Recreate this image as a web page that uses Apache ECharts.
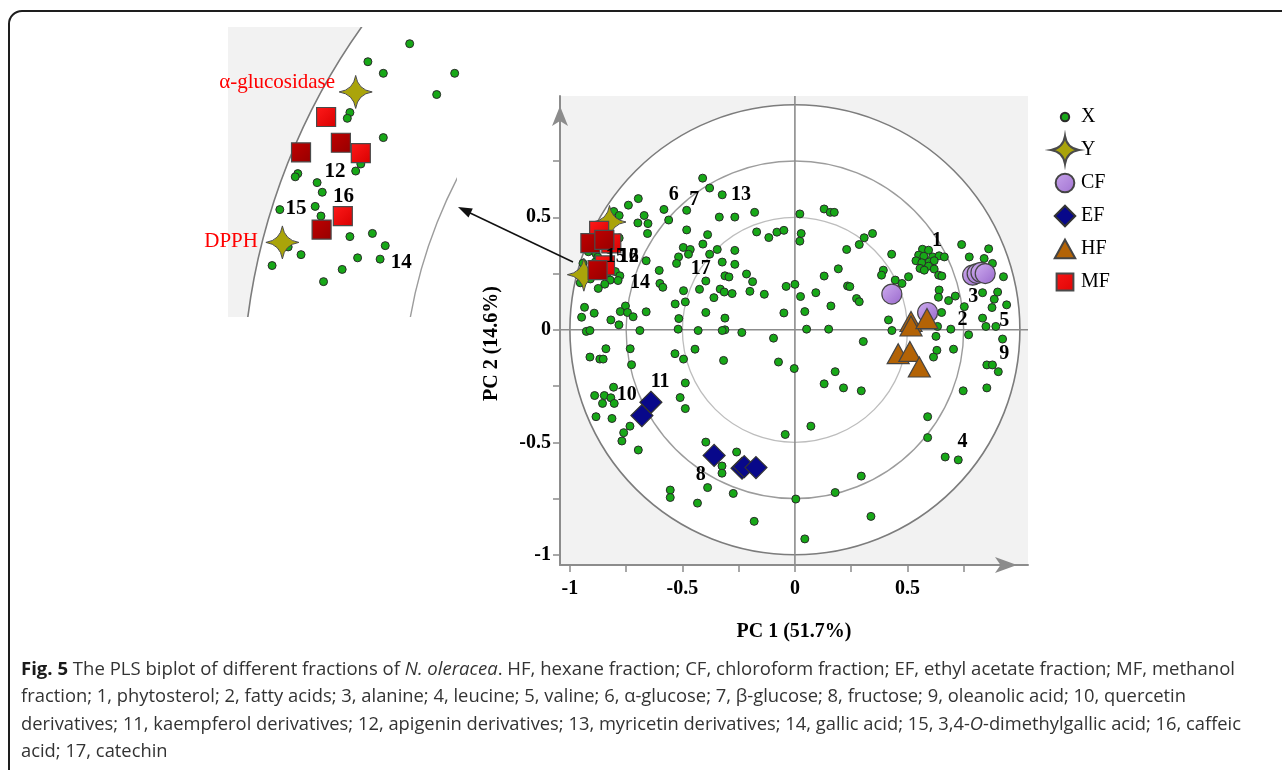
<!DOCTYPE html>
<html>
<head>
<meta charset="utf-8">
<title>PLS biplot</title>
<script src="https://cdn.jsdelivr.net/npm/echarts@6/dist/echarts.min.js"></script>
<style>
  html, body { margin: 0; padding: 0; background: #fff; }
  #main { width: 1282px; height: 770px; }
</style>
</head>
<body>
<div id="main"></div>
<script>
// ---- data ----
const xPoints = [
  // inside the zoomed window
  [-0.740,0.554],[-0.805,0.526],[-0.781,0.508],[-0.670,0.508],[-0.698,0.475],[-0.833,0.447],[-0.837,0.438],
  [-0.781,0.408],[-0.816,0.367],[-0.824,0.356],[-0.914,0.352],[-0.918,0.347],[-0.884,0.338],[-0.876,0.323],
  [-0.942,0.296],[-0.887,0.301],[-0.878,0.286],[-0.833,0.254],[-0.798,0.259],[-0.778,0.240],[-0.909,0.226],
  [-0.954,0.209],[-0.821,0.221],[-0.786,0.219],[-0.845,0.203],[-0.874,0.184],[-0.929,0.238],[-0.696,0.583],
  // upper left
  [-0.410,0.674],[-0.379,0.630],[-0.323,0.600],[-0.582,0.535],[-0.481,0.531],[-0.561,0.488],
  [-0.653,0.472],[-0.655,0.428],[-0.336,0.501],[-0.267,0.501],[-0.179,0.522],[-0.481,0.444],[-0.388,0.423],
  [-0.409,0.381],[-0.345,0.357],[-0.267,0.353],[-0.496,0.366],[-0.465,0.357],[-0.473,0.336],[-0.517,0.324],
  [-0.526,0.295],[-0.379,0.336],[-0.323,0.301],[-0.267,0.291],[-0.311,0.240],[-0.293,0.235],[-0.215,0.248],
  [-0.188,0.214],[-0.170,0.435],[-0.116,0.410],[-0.080,0.434],[-0.049,0.442],
  [-0.661,0.307],[-0.603,0.264],[-0.600,0.206],[-0.587,0.189],[-0.495,0.174],[-0.396,0.217],[-0.424,0.180],
  [-0.360,0.143],[-0.332,0.181],[-0.314,0.168],[-0.279,0.161],[-0.200,0.171],[-0.136,0.158],[-0.039,0.193],
  [0.000,0.202],[0.025,0.148],[-0.532,0.115],[-0.487,0.124],[-0.661,0.080],[-0.753,0.106],[-0.776,0.081],
  [-0.744,0.077],[-0.719,0.058],[-0.818,0.044],[-0.782,0.022],[-0.935,0.100],[-0.892,0.074],[-0.948,0.056],
  [-0.927,-0.007],[-0.911,-0.003],[-0.689,-0.003],[-0.516,0.050],[-0.519,0.003],[-0.396,0.077],[-0.311,0.052],
  [-0.311,0.000],[-0.430,-0.003],[-0.323,-0.003],[-0.236,-0.012],[-0.095,-0.037],[-0.049,0.075],
  // upper right
  [0.022,0.515],[0.130,0.537],[0.157,0.522],[0.175,0.522],[0.028,0.428],[0.022,0.394],[0.345,0.428],
  [0.308,0.409],[0.286,0.379],[0.230,0.357],[0.193,0.271],[0.130,0.239],[0.093,0.165],[0.160,0.106],
  [0.234,0.195],[0.244,0.192],[0.274,0.139],[0.286,0.125],[0.044,0.081],[0.052,0.003],[0.150,0.003],
  [0.430,0.336],[0.393,0.265],[0.385,0.243],[0.446,0.221],[0.476,0.206],[0.505,0.236],[0.416,0.044],[0.431,-0.003],
  [0.567,0.358],[0.594,0.354],[0.550,0.332],[0.573,0.327],[0.612,0.324],[0.641,0.329],[0.664,0.324],
  [0.538,0.307],[0.564,0.298],[0.597,0.302],[0.619,0.307],[0.594,0.283],[0.556,0.273],[0.575,0.265],
  [0.619,0.270],[0.639,0.243],[0.653,0.239],
  [0.741,0.379],[0.775,0.324],[0.861,0.360],[0.841,0.317],[0.878,0.295],[0.927,0.236],[0.834,0.165],
  [0.901,0.168],[0.886,0.136],[0.941,0.111],[0.876,0.099],[0.641,0.177],[0.638,0.145],[0.683,0.130],
  [0.713,0.150],[0.652,0.077],[0.753,0.103],[0.834,0.052],[0.849,0.015],[0.893,0.015],[0.693,0.003],
  [0.772,-0.022],[0.923,-0.041],[0.634,0.015],[0.627,-0.029],
  // lower right
  [0.304,-0.052],[0.179,-0.186],[0.130,-0.240],[0.216,-0.258],[0.295,-0.271],[0.071,-0.428],
  [0.631,-0.091],[0.616,-0.121],[0.705,-0.086],[0.853,-0.156],[0.878,-0.156],[0.904,-0.186],[0.748,-0.271],
  [0.853,-0.258],[0.590,-0.386],[0.590,-0.479],[0.668,-0.565],[0.726,-0.578],[0.295,-0.650],[0.179,-0.723],
  [0.004,-0.752],[0.338,-0.829],[0.044,-0.929],[-0.003,-0.172],
  // lower left
  [-0.840,-0.084],[-0.911,-0.121],[-0.867,-0.130],[-0.852,-0.130],[-0.732,-0.084],[-0.726,-0.155],
  [-0.533,-0.106],[-0.495,-0.130],[-0.444,-0.086],[-0.317,-0.136],[-0.073,-0.143],[-0.487,-0.236],
  [-0.510,-0.301],[-0.487,-0.350],[-0.806,-0.255],[-0.890,-0.292],[-0.847,-0.292],[-0.818,-0.302],
  [-0.855,-0.327],[-0.803,-0.327],[-0.884,-0.386],[-0.813,-0.394],[-0.733,-0.428],[-0.761,-0.457],
  [-0.769,-0.494],[-0.696,-0.534],[-0.396,-0.499],[-0.259,-0.543],[-0.324,-0.605],[-0.324,-0.637],
  [-0.388,-0.701],[-0.274,-0.727],[-0.433,-0.770],[-0.554,-0.712],[-0.554,-0.745],[-0.181,-0.851],[-0.043,-0.465]
];
const yPoints = [[-0.824,0.479],[-0.938,0.245]];          // alpha-glucosidase, DPPH
const cfPoints = [[0.431,0.159],[0.590,0.077],[0.790,0.243],[0.810,0.250],[0.827,0.255],[0.846,0.250]];
const efPoints = [[-0.640,-0.322],[-0.680,-0.381],[-0.359,-0.558],[-0.235,-0.615],[-0.225,-0.608],[-0.173,-0.612]];
const hfPoints = [[0.516,0.037],[0.516,0.017],[0.587,0.050],[0.459,-0.106],[0.511,-0.096],[0.553,-0.165]];
const mfPoints = [[-0.870,0.440],[-0.816,0.384],[-0.844,0.286]];
const mfPointsDark = [[-0.909,0.385],[-0.847,0.400],[-0.877,0.265]];

const circleRadii = [1, 0.75, 0.5];
const tickValues = [-1, -0.75, -0.5, -0.25, 0, 0.25, 0.5, 0.75];
const tickLabels = [-1, -0.5, 0, 0.5];

const mainLabelNames = ['1','2','3','4','5','6','7','8','9','10','11','12','13','14','15','16','17'];
const mainLabelAt = [[0.631,0.395],[0.745,0.044],[0.793,0.145],[0.745,-0.499],[0.930,0.040],[-0.539,0.600],
  [-0.447,0.578],[-0.418,-0.646],[0.930,-0.106],[-0.747,-0.288],[-0.599,-0.231],[-0.738,0.323],[-0.240,0.600],
  [-0.688,0.209],[-0.796,0.323],[-0.738,0.323],[-0.418,0.269]];
const insetLabelNames = ['12','16','15','14'];
const insetLabelAt = [[-0.856,0.355],[-0.843,0.317],[-0.917,0.297],[-0.753,0.214]];
const targetNames = ['α-glucosidase','DPPH'];
const targetLabelAt = [[-0.856,0.493],[-0.976,0.246]];

const captionLines = [
  [['Fig. 5','b'],[' The PLS biplot of different fractions of ',''],['N. oleracea','i'],
   ['. HF, hexane fraction; CF, chloroform fraction; EF, ethyl acetate fraction; MF, methanol','']],
  [['fraction; 1, phytosterol; 2, fatty acids; 3, alanine; 4, leucine; 5, valine; 6, α-glucose; 7, β-glucose; 8, fructose; 9, oleanolic acid; 10, quercetin','']],
  [['derivatives; 11, kaempferol derivatives; 12, apigenin derivatives; 13, myricetin derivatives; 14, gallic acid; 15, 3,4-',''],
   ['O','i'],['-dimethylgallic acid; 16, caffeic','']],
  [['acid; 17, catechin','']]
];
const captionWidths = [1214, 1165, 1220, null];

// ---- chart ----
const SERIF = '"Liberation Serif", "Times New Roman", serif';
const chart = echarts.init(document.getElementById('main'));

const ringStyle = [
  { stroke: '#7c7c7c', lineWidth: 1.6, fill: '#ffffff' },
  { stroke: '#9c9c9c', lineWidth: 1.4, fill: null },
  { stroke: '#bdbdbd', lineWidth: 1.3, fill: null }
];
function ringItem(params, api) {
  const c = api.coord([0, 0]);
  const r = api.size([api.value(2), 0])[0];
  const s = ringStyle[params.dataIndex];
  return { type: 'circle', shape: { cx: c[0], cy: c[1], r: r }, style: s, silent: true };
}
function zeroLines(params, api) {
  const c = api.coord([0, 0]);
  const cs = params.coordSys;
  const st = { stroke: '#8c8c8c', lineWidth: 1.6 };
  return { type: 'group', children: [
    { type: 'line', shape: { x1: c[0], y1: cs.y, x2: c[0], y2: cs.y + cs.height }, style: st },
    { type: 'line', shape: { x1: cs.x, y1: c[1], x2: cs.x + cs.width, y2: c[1] }, style: st }
  ] };
}

const starPath = 'path://M15,0Q17,13,30,15Q17,17,15,30Q13,17,0,15Q13,13,15,0Z';
const grad = (a, b) => new echarts.graphic.LinearGradient(0, 0, 1, 1, [{ offset: 0, color: a }, { offset: 1, color: b }]);
const mfBright = grad('#ff1a1a', '#d80000');
const mfDark = grad('#c00000', '#960000');

function pointSeries(idx) {
  const base = { type: 'scatter', xAxisIndex: idx, yAxisIndex: idx, clip: true, silent: true };
  return [
    Object.assign({}, base, { name: 'X', data: xPoints, symbol: 'circle', symbolSize: 8, z: 3,
      itemStyle: { color: '#17a817', borderColor: '#2a2a2a', borderWidth: 1, opacity: 1 } }),
    Object.assign({}, base, { name: 'Y', data: yPoints, symbol: starPath, symbolSize: [33, 33], z: 4,
      itemStyle: { color: '#aaa40a', borderColor: '#4a4a4a', borderWidth: 1, opacity: 1 } }),
    Object.assign({}, base, { name: 'CF', data: cfPoints, symbol: 'circle', symbolSize: 20, z: 5,
      itemStyle: { color: grad('#d0aef0', '#9868cc'), borderColor: '#444', borderWidth: 1.2, opacity: 1 } }),
    Object.assign({}, base, { name: 'EF', data: efPoints, symbol: 'diamond', symbolSize: 22, z: 5,
      itemStyle: { color: '#08088a', borderColor: '#333', borderWidth: 1.2, opacity: 1 } }),
    Object.assign({}, base, { name: 'HF', data: hfPoints, symbol: 'triangle', symbolSize: [22, 20], z: 5,
      itemStyle: { color: '#b36306', borderColor: '#444', borderWidth: 1.2, opacity: 1 } }),
    Object.assign({}, base, { name: 'MF', symbol: 'rect', symbolSize: 19, z: 6,
      data: mfPoints.map(p => ({ value: p }))
        .concat(mfPointsDark.map(p => ({ value: p, itemStyle: { color: mfDark } }))),
      itemStyle: { color: mfBright, borderColor: '#4a4a4a', borderWidth: 1.2, opacity: 1 } })
  ];
}

function labelSeries(idx, names, at, fontSize) {
  return {
    type: 'scatter', xAxisIndex: idx, yAxisIndex: idx, symbolSize: 0, silent: true, z: 8,
    itemStyle: { opacity: 1 },
    data: names.map((n, i) => ({ name: n, value: at[i] })),
    label: { show: true, position: 'inside', formatter: '{b}', color: '#000',
      fontFamily: SERIF, fontWeight: 'bold', fontSize: fontSize }
  };
}

const valueAxis = (grid, min, max) => ({
  type: 'value', gridIndex: grid, min: min, max: max, splitLine: { show: false }
});

const legendIcons = {
  X: 'path://M0,0M30,30M10.5,15A4.5,4.5,0,1,1,19.5,15A4.5,4.5,0,1,1,10.5,15Z',
  Y: 'path://M15,0Q17,13,30,15Q17,17,15,30Q13,17,0,15Q13,13,15,0Z',
  CF: 'path://M0,0M30,30M5,15A10,10,0,1,1,25,15A10,10,0,1,1,5,15Z',
  EF: 'path://M0,0M30,30M15,4L26,15L15,26L4,15Z',
  HF: 'path://M0,0M30,30M15,5L26,25L4,25Z',
  MF: 'path://M0,0M30,30M6,6L24,6L24,24L6,24Z'
};

const option = {
  animation: false,
  grid: [
    { left: 560, top: 96, width: 468, height: 469, show: true, backgroundColor: '#f2f2f2', borderWidth: 0 },
    { left: 228, top: 27, width: 229, height: 290, show: true, backgroundColor: '#f2f2f2', borderWidth: 0 }
  ],
  xAxis: [
    Object.assign(valueAxis(0, -1.044, 1.036), {
      position: 'bottom',
      name: 'PC 1 (51.7%)', nameLocation: 'middle', nameGap: 57,
      nameTextStyle: { fontFamily: SERIF, fontWeight: 'bold', fontSize: 20, color: '#000' },
      axisLine: { show: true, onZero: false, symbol: ['none', 'arrow'], symbolSize: [12, 22], symbolOffset: [0, -11],
        lineStyle: { color: '#8c8c8c', width: 2 } },
      axisTick: { show: true, length: 7, customValues: tickValues, lineStyle: { color: '#8c8c8c', width: 1.5 } },
      axisLabel: { show: true, customValues: tickLabels, margin: 14, formatter: v => String(v),
        fontFamily: SERIF, fontWeight: 'bold', fontSize: 20, color: '#000' }
    }),
    Object.assign(valueAxis(1, -1.0226, -0.6664), { show: false })
  ],
  yAxis: [
    Object.assign(valueAxis(0, -1.045, 1.039), {
      position: 'left',
      name: 'PC 2 (14.6%)', nameLocation: 'middle', nameGap: 58,
      nameTextStyle: { fontFamily: SERIF, fontWeight: 'bold', fontSize: 20, color: '#000', padding: [0, 26, 0, 0] },
      axisLine: { show: true, onZero: false, symbol: ['none', 'arrow'], symbolSize: [12, 20], symbolOffset: [0, -10],
        lineStyle: { color: '#8c8c8c', width: 2 } },
      axisTick: { show: true, length: 7, customValues: tickValues, lineStyle: { color: '#8c8c8c', width: 1.5 } },
      axisLabel: { show: true, customValues: tickLabels, margin: 9, formatter: v => String(v),
        fontFamily: SERIF, fontWeight: 'bold', fontSize: 20, color: '#000' }
    }),
    Object.assign(valueAxis(1, 0.129, 0.580), { show: false })
  ],
  legend: {
    orient: 'vertical', left: 1045, top: 97, itemWidth: 30, itemHeight: 28, itemGap: 3,
    selectedMode: false,
    textStyle: { fontFamily: SERIF, fontSize: 20, color: '#000', padding: [0, 0, 0, -4] },
    data: ['X', 'Y', 'CF', 'EF', 'HF', 'MF'].map(n => ({ name: n, icon: legendIcons[n] }))
  },
  series: [
    { type: 'custom', xAxisIndex: 0, yAxisIndex: 0, renderItem: ringItem, z: 1, silent: true,
      data: circleRadii.map(r => [0, 0, r]) },
    { type: 'custom', xAxisIndex: 0, yAxisIndex: 0, renderItem: zeroLines, z: 2, silent: true, data: [[0, 0]] },
    { type: 'custom', xAxisIndex: 1, yAxisIndex: 1, renderItem: ringItem, z: 1, silent: true, clip: true,
      data: circleRadii.map(r => [0, 0, r]) }
  ]
  .concat(pointSeries(0))
  .concat(pointSeries(1))
  .concat([
    labelSeries(0, mainLabelNames, mainLabelAt, 20),
    labelSeries(1, insetLabelNames, insetLabelAt, 21),
    {
      type: 'scatter', xAxisIndex: 1, yAxisIndex: 1, symbolSize: 0, silent: true, z: 8,
      itemStyle: { opacity: 1 },
      data: targetNames.map((n, i) => ({ name: n, value: targetLabelAt[i] })),
      label: { show: true, position: 'left', distance: 0, formatter: '{b}', color: '#ff0000',
        fontFamily: SERIF, fontSize: 21 }
    }
  ]),
  graphic: []
};

// arrow from the cluster to the zoomed view
option.graphic.push(
  { type: 'line', z: 100, shape: { x1: 573, y1: 262, x2: 468, y2: 212 }, style: { stroke: '#111', lineWidth: 1.5 } },
  { type: 'polygon', z: 100, shape: { points: [[458, 207], [472.8, 208.5], [468.5, 217.5]] }, style: { fill: '#111' } }
);

// frame
option.graphic.push({ type: 'rect', z: 100, shape: { x: 9, y: 11, width: 1300, height: 780, r: 13 },
  style: { fill: null, stroke: '#1e1e1e', lineWidth: 2 } });

// caption, each line fitted to the width it takes in the figure
const CAP_FONT = '"Open Sans", "Noto Sans", sans-serif';
const CAP_SIZE = 18;
const ctx = document.createElement('canvas').getContext('2d');
function lineWidth(segs) {
  let w = 0;
  segs.forEach(s => {
    ctx.font = (s[1] === 'i' ? 'italic ' : '') + (s[1] === 'b' ? 'bold ' : '') + CAP_SIZE + 'px ' + CAP_FONT;
    w += ctx.measureText(s[0]).width;
  });
  return w;
}
const capY = [670, 697, 725, 752];
let lastScale = 1;
captionLines.forEach((segs, i) => {
  const w = lineWidth(segs);
  const sc = captionWidths[i] ? captionWidths[i] / w : lastScale;
  lastScale = sc;
  option.graphic.push({
    type: 'text', x: 21, y: capY[i], scaleX: sc, z: 100,
    style: {
      text: segs.map(s => s[1] ? '{' + s[1] + '|' + s[0] + '}' : s[0]).join(''),
      fontFamily: CAP_FONT, fontSize: CAP_SIZE, fill: '#333', verticalAlign: 'middle', align: 'left',
      rich: {
        b: { fontWeight: 'bold', fill: '#1a1a1a', fontFamily: CAP_FONT, fontSize: CAP_SIZE },
        i: { fontStyle: 'italic', fill: '#333', fontFamily: CAP_FONT, fontSize: CAP_SIZE }
      }
    }
  });
});

chart.setOption(option);
</script>
</body>
</html>
